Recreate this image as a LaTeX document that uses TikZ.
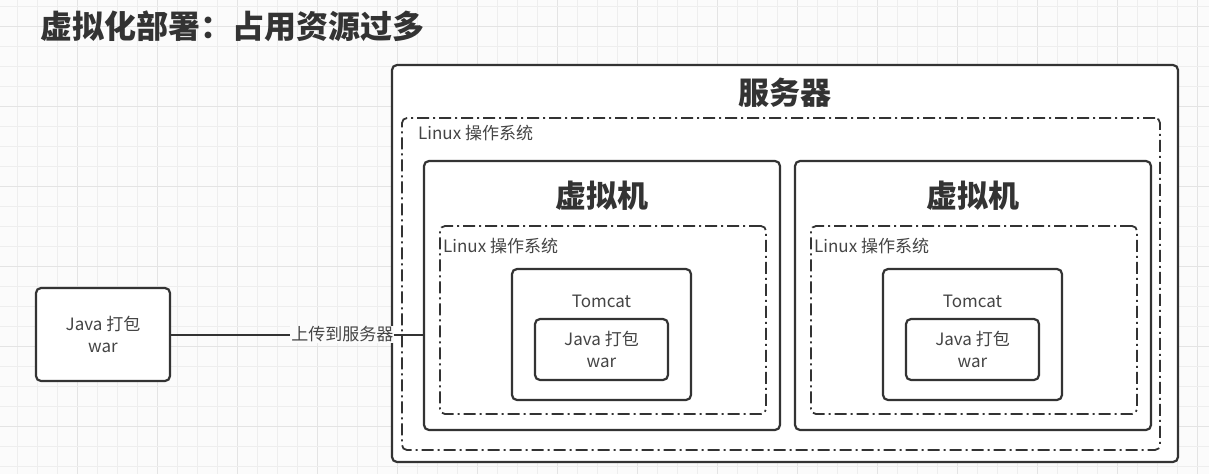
\documentclass[tikz,border=0pt]{standalone}
\usepackage{fontspec}
\setmainfont{Noto Sans CJK SC}
\definecolor{linecol}{HTML}{333333}
\definecolor{textcol}{HTML}{444444}
\definecolor{bgcol}{HTML}{FBFBFB}
\definecolor{gridminor}{HTML}{EEEEEE}
\definecolor{gridmajor}{HTML}{E4E4E4}
\begin{document}
\begin{tikzpicture}
[x=1pt,y=-1pt,
 box/.style={draw=linecol,line width=2.2pt,rounded corners=5pt,inner sep=0pt},
 osbox/.style={draw=linecol,line width=1.8pt,rounded corners=5pt,inner sep=0pt,
   dash pattern=on 12pt off 4pt on 2pt off 4pt},
 small/.style={text=textcol,font=\fontsize{17}{22}\selectfont,inner sep=0pt},
 big/.style={text=linecol,font=\fontsize{31}{36}\selectfont\bfseries,inner sep=0pt},
 conn/.style={draw=linecol,line width=2pt}]
\useasboundingbox[fill=bgcol] (0,0) rectangle (1209,474);
%% background grid
\foreach \k in {0,...,59} {
  \pgfmathtruncatemacro\m{mod(\k,4)}
  \ifnum\m=3 \draw[gridmajor,line width=1pt] ({17+20*\k},0) -- ({17+20*\k},474);
  \else \draw[gridminor,line width=1pt] ({17+20*\k},0) -- ({17+20*\k},474); \fi
}
\foreach \k in {0,...,23} {
  \pgfmathtruncatemacro\m{mod(\k,4)}
  \ifnum\m=1 \draw[gridmajor,line width=1pt] (0,{6.7+20*\k}) -- (1209,{6.7+20*\k});
  \else \draw[gridminor,line width=1pt] (0,{6.7+20*\k}) -- (1209,{6.7+20*\k}); \fi
}
%% title
\node[big,anchor=west,font=\fontsize{32}{36}\selectfont\bfseries] (title) at (40,26) {虚拟化部署：占用资源过多};
%% server and its system
\node[box,fill=white,minimum width=786pt,minimum height=397pt] (server) at (785,263.5) {};
\node[big] (serverlbl) at (785,93) {服务器};
\node[osbox,minimum width=758pt,minimum height=332pt] (sysos) at (781,284) {};
\node[small,anchor=west] (sysoslbl) at (418,133) {Linux 操作系统};
%% the two virtual machines
\foreach \n/\dx in {A/0,B/371} {
  \node[box,minimum width=356pt,minimum height=269pt] (vm\n) at (602+\dx,295.5) {};
  \node[big] (vm\n lbl) at (602+\dx,196) {虚拟机};
  \node[osbox,minimum width=326pt,minimum height=188pt] (os\n) at (603+\dx,320) {};
  \node[small,anchor=west] (os\n lbl) at (443+\dx,246) {Linux 操作系统};
  \node[box,minimum width=179pt,minimum height=131pt] (tom\n) at (601.5+\dx,334.5) {};
  \node[small] (tom\n lbl) at (601.5+\dx,301) {Tomcat};
  \node[box,minimum width=133pt,minimum height=61pt,small,align=center] (war\n) at (601.5+\dx,349.5) {Java 打包\\war};
}
%% local package
\node[box,fill=white,minimum width=134pt,minimum height=93pt,small,align=center] (warL) at (103,334.5) {Java 打包\\war};
\draw[conn] (warL.east) -- node[pos=0.68,small,fill=bgcol,inner sep=1pt] (upload) {上传到服务器} (warL.east -| vmA.west);
\end{tikzpicture}
\end{document}
